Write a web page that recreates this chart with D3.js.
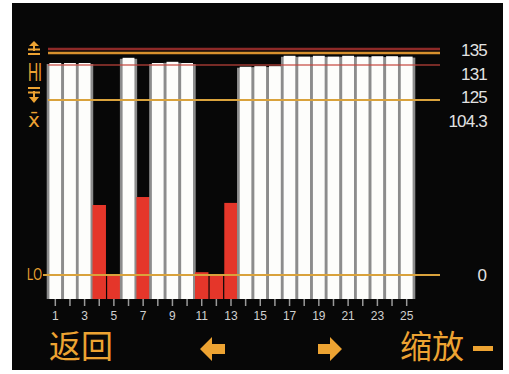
<!DOCTYPE html>
<html>
<head>
<meta charset="utf-8">
<script src="https://cdn.jsdelivr.net/npm/d3@7"></script>
<style>
  body { margin: 0; background: #fff; }
  svg { display: block; }
</style>
</head>
<body>
<svg width="509" height="374"></svg>
<script>
// channel numbers and readings
var channels = d3.range(1, 26);
var readings = [131.5, 131.5, 131.5, 50, 0.3, 132.8, 55.7, 131.5, 131.8, 131.5,
                2, -0.5, 51.5, 130.7, 130.8, 130.8, 133.3, 133.1, 133.3, 133.1,
                133.3, 133.1, 133.2, 133.2, 133.1];
var tickLabels = ["1","3","5","7","9","11","13","15","17","19","21","23","25"];

// limit lines
var limitValues = [135, 134, 131, 125, 0];
var limitColors = ["#8e2a28", "#d7902e", "#c4453c", "#d9a23c", "#d9a23c"];
var sideLabels = ["135", "131", "125", "104.3"];
var lowerLimit = 125;

var svg = d3.select("svg"),
    width = +svg.attr("width"),
    height = +svg.attr("height");

var orange = "#eda332";

// screen
svg.append("rect")
    .attr("x", 12).attr("y", 3)
    .attr("width", 491).attr("height", 367)
    .attr("fill", "#070707");

var x = d3.scaleBand()
    .domain(channels)
    .range([48, 414])
    .padding(0);

// the display uses a broken scale, so use a piecewise one
var y = d3.scaleLinear()
    .domain([-17, 0, 125, 131, 135])
    .range([299, 275, 100, 65, 49]);

var data = channels.map(function(c, i) { return { ch: c, v: readings[i] }; });
var bw = x.bandwidth();

var bars = svg.append("g").selectAll("g")
    .data(data)
    .enter().append("g");

// grey separator behind the white bars
bars.filter(function(d) { return d.v >= lowerLimit; })
    .append("rect")
    .attr("x", function(d) { return x(d.ch) - 1.3; })
    .attr("width", bw + 2.6)
    .attr("y", function(d) { return y(d.v) + 1; })
    .attr("height", function(d) { return y(-17) - y(d.v) - 1; })
    .attr("fill", "#8c8c8c");

bars.append("rect")
    .attr("x", function(d) { return x(d.ch) + (d.v >= lowerLimit ? 1.4 : 0.6); })
    .attr("width", function(d) { return d.v >= lowerLimit ? bw - 2.8 : bw - 1.2; })
    .attr("y", function(d) { return y(d.v); })
    .attr("height", function(d) { return y(-17) - y(d.v); })
    .attr("fill", function(d) { return d.v >= lowerLimit ? "#fdfdfb" : "#e5362a"; });

// limit lines
svg.append("g").selectAll("line")
    .data(limitValues)
    .enter().append("line")
    .attr("x1", function(d) { return d == 0 ? 43 : 48; })
    .attr("x2", 440)
    .attr("y1", function(d) { return y(d); })
    .attr("y2", function(d) { return y(d); })
    .attr("stroke", function(d, i) { return limitColors[i]; })
    .attr("stroke-width", function(d, i) { return i < 2 ? 2.6 : (i == 2 ? 1.6 : 1.8); })
    .attr("opacity", function(d, i) { return i == 2 ? 0.8 : 1; });

// x axis
var xAxis = d3.axisBottom(x)
    .tickValues(channels)
    .tickSize(7)
    .tickFormat(function(d) { return tickLabels.indexOf(String(d)) >= 0 ? d : ""; });

var gx = svg.append("g")
    .attr("transform", "translate(0," + y(-17) + ")")
    .call(xAxis);
gx.select(".domain").remove();
gx.selectAll(".tick line").attr("stroke", "#9a9a9a").attr("stroke-width", 1.5);
gx.selectAll(".tick text")
    .attr("fill", "#d0d0d0")
    .attr("y", 12)
    .style("font-family", "Liberation Sans, Arial, sans-serif")
    .style("font-size", "12px");

// right side value labels
svg.append("g").selectAll("text")
    .data(sideLabels)
    .enter().append("text")
    .attr("x", 487)
    .attr("y", function(d, i) { return 50 + i * 23.5; })
    .attr("dy", "0.36em")
    .attr("text-anchor", "end")
    .attr("fill", "#e2e2e2")
    .style("font-family", "Liberation Sans, Arial, sans-serif")
    .style("font-size", "17px")
    .style("letter-spacing", "-0.8px")
    .text(function(d) { return d; });

svg.append("text")
    .attr("x", 487).attr("y", y(0))
    .attr("dy", "0.36em")
    .attr("text-anchor", "end")
    .attr("fill", "#e2e2e2")
    .style("font-family", "Liberation Sans, Arial, sans-serif")
    .style("font-size", "17px")
    .text("0");

// left icons
var icons = svg.append("g").attr("fill", orange).attr("stroke", orange);
// upper limit
icons.append("path").attr("d", "M34,41 L39,46 L29,46 Z").attr("stroke", "none");
icons.append("line").attr("x1", 34).attr("x2", 34).attr("y1", 45).attr("y2", 51).attr("stroke-width", 2);
icons.append("line").attr("x1", 28).attr("x2", 40).attr("y1", 49.5).attr("y2", 49.5).attr("stroke-width", 2);
icons.append("line").attr("x1", 28).attr("x2", 40).attr("y1", 54).attr("y2", 54).attr("stroke-width", 2);
// lower limit
icons.append("line").attr("x1", 28).attr("x2", 40).attr("y1", 88).attr("y2", 88).attr("stroke-width", 2);
icons.append("line").attr("x1", 28).attr("x2", 40).attr("y1", 92.5).attr("y2", 92.5).attr("stroke-width", 2);
icons.append("line").attr("x1", 34).attr("x2", 34).attr("y1", 91).attr("y2", 98).attr("stroke-width", 2);
icons.append("path").attr("d", "M34,103 L39,97 L29,97 Z").attr("stroke", "none");

svg.append("text")
    .attr("x", 28).attr("y", 81)
    .attr("fill", orange)
    .attr("textLength", 14).attr("lengthAdjust", "spacingAndGlyphs")
    .style("font-family", "Liberation Sans, Arial, sans-serif")
    .style("font-size", "25px")
    .text("HI");

svg.append("text")
    .attr("x", 34).attr("y", 127)
    .attr("text-anchor", "middle")
    .attr("fill", orange)
    .style("font-family", "DejaVu Sans, sans-serif")
    .style("font-size", "20px")
    .text("x\u0304");

svg.append("text")
    .attr("x", 27).attr("y", 280)
    .attr("fill", orange)
    .attr("textLength", 15).attr("lengthAdjust", "spacingAndGlyphs")
    .style("font-family", "Liberation Sans, Arial, sans-serif")
    .style("font-size", "16px")
    .text("LO");

// soft keys
var keyFont = "'Noto Sans CJK SC', sans-serif";
svg.append("text")
    .attr("x", 49).attr("y", 358)
    .attr("fill", orange)
    .style("font-family", keyFont)
    .style("font-size", "32px")
    .text("返回");

svg.append("text")
    .attr("x", 400).attr("y", 358)
    .attr("fill", orange)
    .style("font-family", keyFont)
    .style("font-size", "32px")
    .text("缩放");

svg.append("rect")
    .attr("x", 473).attr("y", 346)
    .attr("width", 20).attr("height", 5)
    .attr("fill", orange);

// arrows
svg.append("path")
    .attr("d", "M200,349 L212,337 L212,344 L225,344 L225,354 L212,354 L212,361 Z")
    .attr("fill", orange);
svg.append("path")
    .attr("d", "M342,349 L330,337 L330,344 L318,344 L318,354 L330,354 L330,361 Z")
    .attr("fill", orange);
</script>
</body>
</html>
